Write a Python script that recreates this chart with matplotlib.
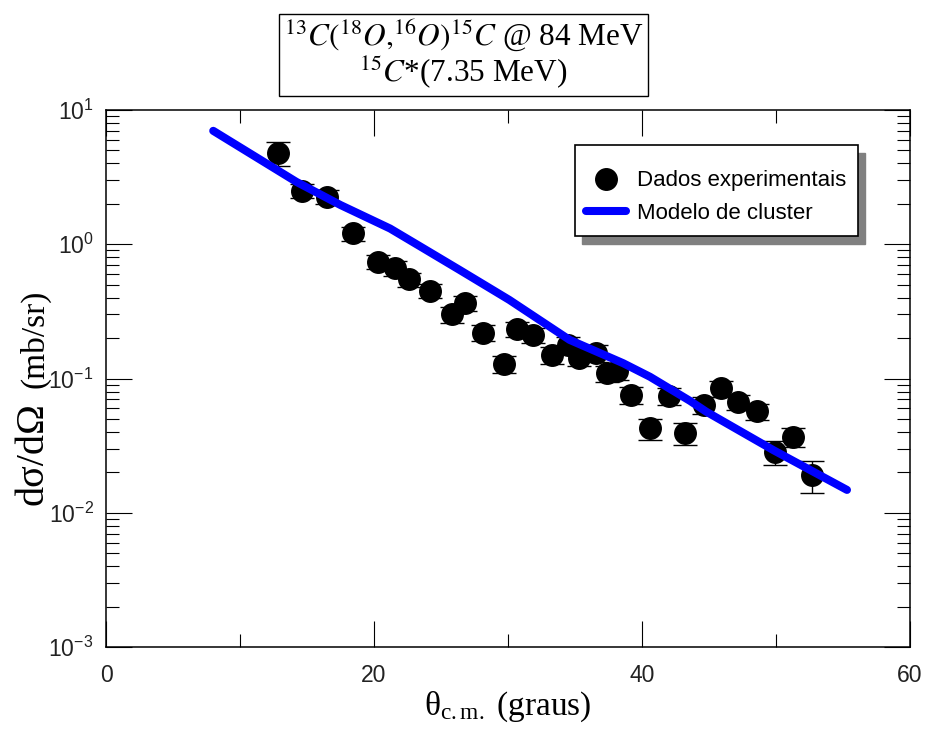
import matplotlib
matplotlib.use('Agg')
import matplotlib.pyplot as plt
from matplotlib.patches import Rectangle
from matplotlib.ticker import MultipleLocator, LogLocator, FixedLocator, FixedFormatter, NullFormatter

plt.rcParams['mathtext.fontset'] = 'stix'

# experimental points
theta_exp = [12.8, 14.6, 16.5, 18.4, 20.3, 21.6, 22.6, 24.2, 25.8, 26.8, 28.1,
             29.7, 30.7, 31.9, 33.3, 34.5, 35.3, 36.6, 37.4, 38.1, 39.2, 40.6,
             42.0, 43.2, 44.6, 45.9, 47.2, 48.6, 49.9, 51.3, 52.7]
sigma_exp = [4.8, 2.5, 2.25, 1.21, 0.74, 0.665, 0.55, 0.45, 0.30, 0.365, 0.22,
             0.128, 0.234, 0.21, 0.15, 0.178, 0.143, 0.155, 0.110, 0.113, 0.076,
             0.0426, 0.074, 0.0395, 0.0635, 0.0845, 0.067, 0.057, 0.0285, 0.0368,
             0.0191]
sigma_err = [1.0, 0.30, 0.27, 0.145, 0.089, 0.08, 0.066, 0.054, 0.039, 0.047,
             0.029, 0.018, 0.030, 0.027, 0.021, 0.025, 0.020, 0.022, 0.015, 0.016,
             0.011, 0.0077, 0.011, 0.0075, 0.0089, 0.0118, 0.0087, 0.008, 0.0057,
             0.0059, 0.005]

# cluster model curve
theta_mod = [8.0, 14.2, 17.5, 21.2, 23.4, 26.4, 30.1, 34.6, 38.6, 40.6, 43.6, 44.8,
             49.8, 55.3]
sigma_mod = [7.0, 2.92, 1.96, 1.31, 0.97, 0.643, 0.385, 0.194, 0.130, 0.103, 0.068,
             0.0566, 0.0293, 0.0148]

xticks = [0, 20, 40, 60]
yticks = [1e-3, 1e-2, 1e-1, 1e0, 1e1]
ytick_labels = [r'$\mathregular{10^{-3}}$', r'$\mathregular{10^{-2}}$',
                r'$\mathregular{10^{-1}}$', r'$\mathregular{10^{0}}$',
                r'$\mathregular{10^{1}}$']

fig = plt.figure(figsize=(9.31, 7.34), dpi=100)
ax = fig.add_axes([0.1139, 0.1185, 0.8635, 0.7316])

ax.errorbar(theta_exp, sigma_exp, yerr=sigma_err, fmt='none', ecolor='black',
            elinewidth=1, capsize=8.5, capthick=1, zorder=2)
pts, = ax.plot(theta_exp, sigma_exp, 'o', color='black', markersize=15.5,
               label='Dados experimentais', zorder=3)
line, = ax.plot(theta_mod, sigma_mod, '-', color='#0000ff', linewidth=5.8,
                solid_capstyle='round', solid_joinstyle='round',
                label='Modelo de cluster', zorder=4)

ax.set_yscale('log')
ax.set_xlim(0, 60)
ax.set_ylim(1e-3, 1e1)

ax.xaxis.set_major_locator(FixedLocator(xticks))
ax.xaxis.set_minor_locator(MultipleLocator(10))
ax.yaxis.set_major_locator(FixedLocator(yticks))
ax.yaxis.set_major_formatter(FixedFormatter(ytick_labels))
ax.yaxis.set_minor_locator(LogLocator(base=10, subs=range(2, 10)))
ax.yaxis.set_minor_formatter(NullFormatter())

ax.tick_params(which='both', direction='in', top=True, right=True, width=0.8,
               colors='black', labelcolor='#222222')
ax.tick_params(axis='x', pad=12)
ax.tick_params(axis='y', pad=9)
ax.tick_params(which='major', length=19)
ax.tick_params(which='minor', length=9.5)
for lab in ax.get_xticklabels() + ax.get_yticklabels():
    lab.set_family('Liberation Sans')
    lab.set_fontsize(16.5)
for sp in ax.spines.values():
    sp.set_linewidth(1.1)

ax.set_xlabel(r'$\mathregular{θ_{c{.}m{.}}}$ (graus)', family='Liberation Serif',
              fontsize=24, labelpad=2)

# y label, two sizes like the original
fig.text(43 / 931, 1 - 505 / 734, 'dσ/dΩ', family='Liberation Serif', fontsize=29,
         rotation=90, rotation_mode='anchor', ha='left', va='baseline')
fig.text(43 / 931, 1 - 388 / 734, '(mb/sr)', family='Liberation Serif', fontsize=24,
         rotation=90, rotation_mode='anchor', ha='left', va='baseline')

# legend frame with a drop shadow, drawn by hand (box is taller than matplotlib's)
box_x, box_y, box_w, box_h = 0.583, 0.765, 0.352, 0.170
ax.add_patch(Rectangle((box_x + 0.0095, box_y - 0.0145), box_w, box_h,
                       transform=ax.transAxes, facecolor='0.5', edgecolor='0.5',
                       zorder=5, clip_on=False))
ax.add_patch(Rectangle((box_x, box_y), box_w, box_h, transform=ax.transAxes,
                       facecolor='white', edgecolor='black', linewidth=1.2,
                       zorder=6, clip_on=False))
leg = ax.legend(handles=[pts, line], loc='center',
                bbox_to_anchor=(box_x + box_w / 2, box_y + box_h / 2 - 0.012),
                frameon=False, prop={'family': 'Liberation Sans', 'size': 16},
                borderpad=0.0, labelspacing=0.5, handlelength=1.8,
                handletextpad=0.5, borderaxespad=0)
leg.set_zorder(7)

fig.text(463.5 / 931, 1 - 54.5 / 734,
         r'$^{13}C(^{18}O{,}^{16}O)^{15}C$ @ 84 MeV' + '\n' + r'$^{15}C$*(7.35 MeV)',
         family='Liberation Serif', fontsize=22.5, ha='center', va='center',
         linespacing=1.0,
         bbox=dict(boxstyle='square,pad=0.15', facecolor='white', edgecolor='black',
                   linewidth=1))

fig.savefig('out.png', dpi=100)
